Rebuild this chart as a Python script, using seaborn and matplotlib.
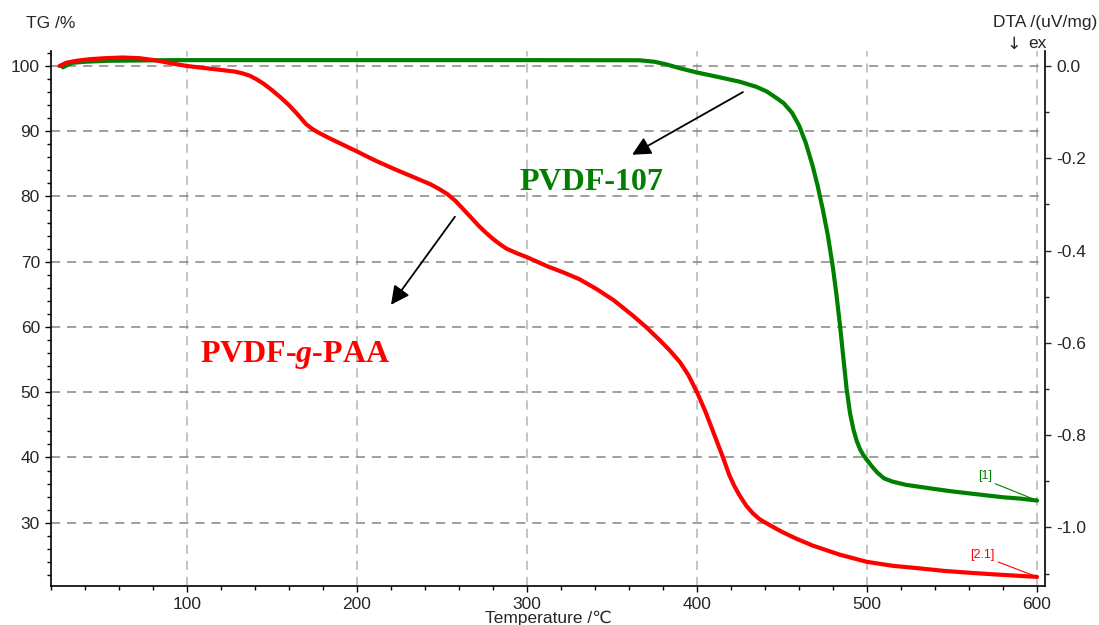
import matplotlib
matplotlib.use("Agg")
import matplotlib.pyplot as plt
from matplotlib.ticker import MultipleLocator, FormatStrFormatter
import pandas as pd
import seaborn as sns

# ---- TGA data (temperature in °C, residual mass in %) ----
pvdf107_temp = [27, 30, 33, 40, 53, 92, 200, 300, 366, 375, 382, 390, 400, 411,
                425, 435, 441, 447, 451, 456, 460, 464, 468, 471, 474, 477, 480,
                482, 484, 486, 488, 490, 492, 494, 496, 498, 500, 503, 506, 510,
                515, 523, 531, 539, 550, 560, 570, 580, 590, 600]
pvdf107_tg = [99.8, 100.2, 100.5, 100.65, 100.8, 100.9, 100.9, 100.9, 100.88, 100.65,
              100.25, 99.65, 99.0, 98.4, 97.6, 96.8, 96.1, 95.05, 94.3, 92.8, 90.9,
              88.2, 84.7, 81.6, 78.0, 74.0, 69.0, 65.0, 60.5, 55.5, 50.5, 46.8,
              44.3, 42.5, 41.2, 40.3, 39.6, 38.6, 37.7, 36.8, 36.3, 35.8, 35.5,
              35.2, 34.8, 34.5, 34.2, 33.9, 33.7, 33.4]

paa_temp = [25, 29, 35, 43, 52, 62, 72, 82, 92, 100, 110, 120, 128, 133, 137, 141,
            145, 150, 155, 160, 165, 170, 174, 178, 184, 192, 200, 210, 222, 233,
            243, 248, 253, 258, 262, 267, 272, 276, 280, 284, 288, 294, 300, 306,
            312, 322, 331, 341, 351, 362, 370, 378, 384, 390, 395, 400, 405, 410,
            415, 419, 422, 425, 429, 433, 437, 443, 450, 458, 468, 484, 500, 515,
            531, 546, 562, 580, 600]
paa_tg = [100.0, 100.5, 100.8, 101.05, 101.2, 101.3, 101.2, 100.85, 100.35, 100.0,
          99.7, 99.4, 99.15, 98.85, 98.5, 97.95, 97.3, 96.3, 95.2, 94.0, 92.6,
          91.1, 90.3, 89.7, 88.9, 87.9, 86.9, 85.6, 84.2, 83.0, 81.9, 81.2, 80.4,
          79.3, 78.2, 76.8, 75.4, 74.4, 73.5, 72.7, 72.0, 71.3, 70.7, 70.0, 69.3,
          68.3, 67.3, 65.8, 64.1, 61.8, 60.0, 58.0, 56.4, 54.6, 52.6, 50.0, 47.0,
          43.6, 40.2, 37.3, 35.6, 34.2, 32.6, 31.4, 30.5, 29.6, 28.6, 27.6, 26.5,
          25.1, 24.0, 23.4, 23.0, 22.6, 22.3, 22.0, 21.7]

samples = ["PVDF-107", "PVDF-g-PAA"]
colors = {"PVDF-107": "#008000", "PVDF-g-PAA": "#ff0000"}

df = pd.concat([
    pd.DataFrame({"Temperature": pvdf107_temp, "TG": pvdf107_tg, "Sample": samples[0]}),
    pd.DataFrame({"Temperature": paa_temp, "TG": paa_tg, "Sample": samples[1]}),
], ignore_index=True)

sns.set_theme(style="white")
plt.rcParams["font.family"] = ["Liberation Sans", "DejaVu Sans"]
plt.rcParams["axes.unicode_minus"] = False
plt.rcParams["mathtext.fontset"] = "custom"
plt.rcParams["mathtext.it"] = "Liberation Serif:italic:bold"
plt.rcParams["mathtext.rm"] = "Liberation Serif:bold"

FS = 12.5
W, H = 1099, 625
fig = plt.figure(figsize=(W / 100, H / 100), dpi=100)
L, R, B, T = 51, 1045, 586, 51
ax = fig.add_axes([L / W, 1 - B / H, (R - L) / W, (B - T) / H])

sns.lineplot(data=df, x="Temperature", y="TG", hue="Sample", palette=colors,
             linewidth=3, legend=False, ax=ax, zorder=5,
             solid_joinstyle="round", solid_capstyle="round")

ax.set_xlim(20, 604.7)
ax.set_ylim(20.3, 102.3)

# grid: light vertical, darker horizontal dashed lines
for xv in range(100, 601, 100):
    ax.axvline(xv, color="#b4b4b4", lw=1.1, ls=(0, (6, 4.5)), zorder=1)
for yv in range(30, 101, 10):
    ax.axhline(yv, color="#858585", lw=1.1, ls=(0, (6, 4.5)), zorder=1)

ax.xaxis.set_major_locator(MultipleLocator(100))
ax.xaxis.set_minor_locator(MultipleLocator(20))
ax.yaxis.set_major_locator(MultipleLocator(10))
ax.yaxis.set_minor_locator(MultipleLocator(2))
ax.yaxis.set_major_formatter(FormatStrFormatter("%d"))
ax.tick_params(axis="both", which="major", direction="out", length=4.5, width=1,
               labelsize=FS, color="black", pad=3.5)
ax.tick_params(axis="both", which="minor", direction="out", length=3, width=1,
               color="black")
ax.tick_params(axis="x", bottom=True, which="both")
ax.tick_params(axis="y", left=True, which="both")

for s in ["top", "right"]:
    ax.spines[s].set_visible(False)
for s in ["left", "bottom"]:
    ax.spines[s].set_color("black")
    ax.spines[s].set_linewidth(1.2)

ax.set_xlabel("Temperature /\u2103", fontsize=FS, labelpad=-1)
ax.set_ylabel("")

# DTA axis on the right (scale only)
ax2 = ax.twinx()
ax2.set_ylim(-1.1268, 0.0325)
ax2.yaxis.set_major_locator(MultipleLocator(0.2))
ax2.yaxis.set_minor_locator(MultipleLocator(0.1))
ax2.yaxis.set_major_formatter(FormatStrFormatter("%.1f"))
ax2.tick_params(axis="y", which="major", direction="out", length=4.5, width=1,
                labelsize=FS, pad=3.5, right=True)
ax2.tick_params(axis="y", which="minor", direction="out", length=3, width=1, right=True)
ax2.grid(False)
for s in ["top", "left", "bottom"]:
    ax2.spines[s].set_visible(False)
ax2.spines["right"].set_color("black")
ax2.spines["right"].set_linewidth(1.2)

# axis titles
fig.text(26 / W, 1 - 23 / H, "TG /%", fontsize=FS, va="center", ha="left")
fig.text(1097 / W, 1 - 23 / H, "DTA /(uV/mg)", fontsize=FS, va="center", ha="right")
fig.text(1014 / W, 1 - 44 / H, "\u2193", fontsize=FS, va="center", ha="center",
         family="DejaVu Sans")
fig.text(1047 / W, 1 - 44 / H, "ex", fontsize=FS, va="center", ha="right")

# sample labels with arrows
ax.text(338, 82.1, "PVDF-107", color=colors["PVDF-107"], fontsize=23,
        family="Liberation Serif", weight="bold", ha="center", va="center", zorder=6)
ax.text(163.5, 55.7, r"PVDF-$\mathit{g}$-PAA", color=colors["PVDF-g-PAA"], fontsize=23,
        family="Liberation Serif", weight="bold", ha="center", va="center", zorder=6)

arrow_kw = dict(arrowstyle="-|>", color="black", lw=1.3, mutation_scale=28,
                shrinkA=0, shrinkB=0)
ax.annotate("", xy=(361.8, 86.4), xytext=(427, 96.0), arrowprops=arrow_kw, zorder=6)
ax.annotate("", xy=(220, 63.4), xytext=(257.6, 76.9), arrowprops=arrow_kw, zorder=6)

# end-point markers
ax.annotate("[1]", xy=(pvdf107_temp[-1], pvdf107_tg[-1]), xytext=(569.4, 37.1),
            color=colors["PVDF-107"], fontsize=9, ha="center", va="center",
            arrowprops=dict(arrowstyle="-", color=colors["PVDF-107"], lw=0.8,
                            shrinkA=0, shrinkB=0, relpos=(1, 0)), zorder=6)
ax.annotate("[2.1]", xy=(paa_temp[-1], paa_tg[-1]), xytext=(568, 25.1),
            color=colors["PVDF-g-PAA"], fontsize=9, ha="center", va="center",
            arrowprops=dict(arrowstyle="-", color=colors["PVDF-g-PAA"], lw=0.8,
                            shrinkA=0, shrinkB=0, relpos=(1, 0)), zorder=6)

fig.savefig("out.png", dpi=100)
